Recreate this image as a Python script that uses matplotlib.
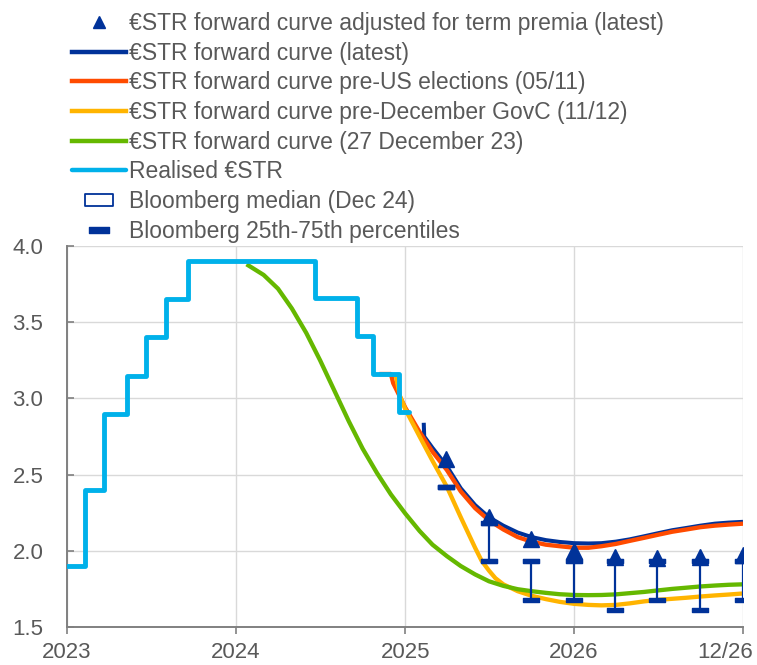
import matplotlib
matplotlib.use("Agg")
import matplotlib.pyplot as plt
from matplotlib.lines import Line2D
from matplotlib.path import Path
from matplotlib.transforms import ScaledTranslation
import pandas as pd

plt.rcParams['font.family'] = ['Liberation Sans', 'DejaVu Sans']

# ---------------- data ----------------
# Realised €STR (level changes, step function)
estr_dates = ["2023-01-01", "2023-02-08", "2023-03-22", "2023-05-10", "2023-06-21",
              "2023-08-02", "2023-09-20", "2024-06-19", "2024-09-18", "2024-10-23",
              "2024-12-18", "2025-01-10"]
estr_values = [1.90, 2.40, 2.90, 3.15, 3.40, 3.65, 3.90, 3.66, 3.41, 3.16, 2.91, 2.91]

# €STR forward curve (latest)
latest_dates = ["2025-02-10", "2025-02-11", "2025-03-01", "2025-04-01", "2025-05-01",
                "2025-06-01", "2025-07-01", "2025-08-01", "2025-09-01", "2025-10-01",
                "2025-11-01", "2025-12-01", "2026-01-01", "2026-02-01", "2026-03-01",
                "2026-04-01", "2026-05-01", "2026-06-01", "2026-07-01", "2026-08-01",
                "2026-09-01", "2026-10-01", "2026-11-01", "2026-12-01", "2027-01-01"]
latest_values = [2.84, 2.75, 2.675, 2.555, 2.41, 2.30, 2.22, 2.165, 2.12, 2.09,
                 2.07, 2.058, 2.05, 2.048, 2.05, 2.06, 2.075, 2.095, 2.115, 2.135,
                 2.15, 2.165, 2.178, 2.185, 2.19]

# €STR forward curve pre-US elections (05/11)
pre_us_dates = ["2024-11-06", "2024-12-01", "2024-12-06", "2025-01-01", "2025-02-01",
                "2025-03-01", "2025-04-01", "2025-05-01", "2025-06-01", "2025-07-01",
                "2025-08-01", "2025-09-01", "2025-10-01", "2025-11-01", "2025-12-01",
                "2026-01-01", "2026-02-01", "2026-03-01", "2026-04-01", "2026-05-01",
                "2026-06-01", "2026-07-01", "2026-08-01", "2026-09-01", "2026-10-01",
                "2026-11-01", "2026-12-01", "2027-01-01"]
pre_us_values = [3.16, 3.16, 3.10, 2.94, 2.78, 2.65, 2.53, 2.39, 2.28, 2.20,
                 2.14, 2.09, 2.06, 2.04, 2.03, 2.02, 2.02, 2.03, 2.045, 2.065,
                 2.085, 2.105, 2.125, 2.14, 2.155, 2.165, 2.172, 2.178]

# €STR forward curve pre-December GovC (11/12)
pre_dec_dates = ["2024-12-11", "2024-12-20", "2025-01-01", "2025-02-01", "2025-03-01",
                 "2025-04-01", "2025-05-01", "2025-06-01", "2025-06-15", "2025-07-01",
                 "2025-07-15", "2025-08-01", "2025-09-01", "2025-10-01", "2025-11-01",
                 "2025-12-01", "2026-01-01", "2026-02-01", "2026-03-01", "2026-04-01",
                 "2026-05-01", "2026-06-01", "2026-07-01", "2026-08-01", "2026-09-01",
                 "2026-10-01", "2026-11-01", "2026-12-01", "2027-01-01"]
pre_dec_values = [3.16, 3.02, 2.93, 2.75, 2.59, 2.42, 2.22, 2.02, 1.935, 1.87,
                  1.82, 1.78, 1.735, 1.705, 1.683, 1.665, 1.652, 1.645, 1.642, 1.645,
                  1.655, 1.668, 1.678, 1.685, 1.692, 1.70, 1.707, 1.713, 1.72]

# €STR forward curve (27 December 23)
dec23_dates = ["2024-01-24", "2024-02-01", "2024-03-01", "2024-04-01", "2024-05-01",
               "2024-06-01", "2024-07-01", "2024-08-01", "2024-09-01", "2024-10-01",
               "2024-11-01", "2024-12-01", "2025-01-01", "2025-02-01", "2025-03-01",
               "2025-04-01", "2025-05-01", "2025-06-01", "2025-07-01", "2025-08-01",
               "2025-09-01", "2025-10-01", "2025-11-01", "2025-12-01", "2026-01-01",
               "2026-02-01", "2026-03-01", "2026-04-01", "2026-05-01", "2026-06-01",
               "2026-07-01", "2026-08-01", "2026-09-01", "2026-10-01", "2026-11-01",
               "2026-12-01", "2027-01-01"]
dec23_values = [3.88, 3.865, 3.81, 3.72, 3.59, 3.43, 3.25, 3.05, 2.85, 2.67,
                2.51, 2.37, 2.245, 2.13, 2.04, 1.965, 1.90, 1.845, 1.80, 1.77,
                1.748, 1.735, 1.724, 1.715, 1.71, 1.709, 1.71, 1.714, 1.722, 1.73,
                1.74, 1.75, 1.758, 1.766, 1.772, 1.777, 1.78]

# Quarter-end points: term-premia-adjusted forwards and Bloomberg survey
quarter_dates = ["2025-03-31", "2025-06-30", "2025-09-30", "2025-12-31",
                 "2026-03-31", "2026-06-30", "2026-09-30", "2026-12-31"]
adjusted_values = [2.60, 2.22, 2.08, 2.00, 1.96, 1.95, 1.96, 1.97]
bbg_median = [2.42, 1.93, 1.93, 1.93, 1.93, 1.93, 1.93, 1.93]
bbg_p25 = [2.42, 1.93, 1.68, 1.68, 1.61, 1.68, 1.61, 1.68]
bbg_p75 = [2.42, 2.18, 1.93, 1.93, 1.93, 1.93, 1.93, 1.93]

x_ticks = ["2023-01-01", "2024-01-01", "2025-01-01", "2026-01-01", "2027-01-01"]
x_tick_labels = ["2023", "2024", "2025", "2026", "12/26"]
y_ticks = [1.5, 2.0, 2.5, 3.0, 3.5, 4.0]

labels = [
    "€STR forward curve adjusted for term premia (latest)",
    "€STR forward curve (latest)",
    "€STR forward curve pre-US elections (05/11)",
    "€STR forward curve pre-December GovC (11/12)",
    "€STR forward curve (27 December 23)",
    "Realised €STR",
    "Bloomberg median (Dec 24)",
    "Bloomberg 25th-75th percentiles",
]

# ---------------- styling ----------------
DARK_BLUE = "#003299"
ORANGE = "#ff4b00"
YELLOW = "#ffb400"
GREEN = "#65b800"
LIGHT_BLUE = "#00b1ea"
TEXT = "#595959"
AXIS = "#808080"
GRID = "#d9d9d9"

# wide flat rectangles used for the survey markers
dash_path = Path([(-1, -0.25), (1, -0.25), (1, 0.25), (-1, 0.25), (-1, -0.25)],
                 [Path.MOVETO, Path.LINETO, Path.LINETO, Path.LINETO, Path.CLOSEPOLY])
box_path = Path([(-1, -0.4), (1, -0.4), (1, 0.4), (-1, 0.4), (-1, -0.4)],
                [Path.MOVETO, Path.LINETO, Path.LINETO, Path.LINETO, Path.CLOSEPOLY])

to_dt = pd.to_datetime

fig = plt.figure(figsize=(7.57, 6.65), dpi=100)
ax = fig.add_axes([67 / 757, 1 - 627 / 665, 676 / 757, 381 / 665])

lw = 3.1
ax.plot(to_dt(latest_dates), latest_values, color=DARK_BLUE, lw=2.9, zorder=3,
        solid_capstyle="butt")
ax.plot(to_dt(pre_us_dates), pre_us_values, color=ORANGE, lw=lw, zorder=3.1,
        solid_capstyle="butt")
ax.plot(to_dt(pre_dec_dates), pre_dec_values, color=YELLOW, lw=lw, zorder=3.2,
        solid_capstyle="butt")
ax.plot(to_dt(dec23_dates), dec23_values, color=GREEN, lw=lw, zorder=3.3,
        solid_capstyle="butt")
ax.plot(to_dt(estr_dates), estr_values, color=LIGHT_BLUE, lw=3.5, zorder=3.4,
        drawstyle="steps-post", solid_capstyle="round")

qd = to_dt(quarter_dates)
ax.vlines(qd, bbg_p25, bbg_p75, color=DARK_BLUE, lw=1.6, zorder=4)
ax.plot(qd, bbg_median, ls="none", marker=dash_path, ms=11.5, mfc="white",
        mec=DARK_BLUE, mew=0.8, zorder=4.1)
ax.plot(qd, bbg_p25, ls="none", marker=dash_path, ms=11.5, color=DARK_BLUE, zorder=4.2)
ax.plot(qd, bbg_p75, ls="none", marker=dash_path, ms=11.5, color=DARK_BLUE, zorder=4.2)
ax.plot(qd, adjusted_values, ls="none", marker="^", ms=11, color=DARK_BLUE, zorder=5)

# ---------------- axes ----------------
ax.set_xlim(to_dt("2023-01-01"), to_dt("2027-01-01"))
ax.set_ylim(1.5, 4.0)
ax.set_xticks(to_dt(x_ticks))
ax.set_xticklabels(x_tick_labels)
ax.set_yticks(y_ticks)
ax.set_yticklabels([f"{v:.1f}" for v in y_ticks])

ax.grid(True, color=GRID, lw=1.0)
ax.set_axisbelow(True)
for side in ("top", "right"):
    ax.spines[side].set_visible(False)
for side in ("left", "bottom"):
    ax.spines[side].set_color(AXIS)
    ax.spines[side].set_linewidth(1.4)
    ax.spines[side].set_zorder(2.5)

ax.tick_params(axis="x", direction="out", length=5, width=1.2, color=AXIS,
               pad=6, labelsize=16, labelcolor=TEXT)
ax.tick_params(axis="y", direction="in", length=5, width=1.2, color=AXIS,
               pad=17, labelsize=16, labelcolor=TEXT)

# keep the last date label inside the figure
last_label = ax.get_xticklabels()[-1]
last_label.set_transform(last_label.get_transform()
                         + ScaledTranslation(-18 / 100, 0, fig.dpi_scale_trans))

# ---------------- legend ----------------
handles = [
    Line2D([], [], ls="none", marker="^", ms=8, color=DARK_BLUE),
    Line2D([], [], color=DARK_BLUE, lw=3.2),
    Line2D([], [], color=ORANGE, lw=3.2),
    Line2D([], [], color=YELLOW, lw=3.2),
    Line2D([], [], color=GREEN, lw=3.2),
    Line2D([], [], color=LIGHT_BLUE, lw=3.2, solid_capstyle="round"),
    Line2D([], [], ls="none", marker=box_path, ms=20, mfc="white", mec=DARK_BLUE, mew=1.3),
    Line2D([], [], ls="none", marker=dash_path, ms=15, color=DARK_BLUE),
]
fig.legend(handles, labels, loc="upper left",
           bbox_to_anchor=(72 / 757, 1 - 12 / 665), bbox_transform=fig.transFigure,
           frameon=False, fontsize=16.5, handlelength=2.36, handletextpad=0.145,
           labelspacing=0.29, borderpad=0, borderaxespad=0, labelcolor=TEXT)

fig.savefig("out.png", dpi=100)
